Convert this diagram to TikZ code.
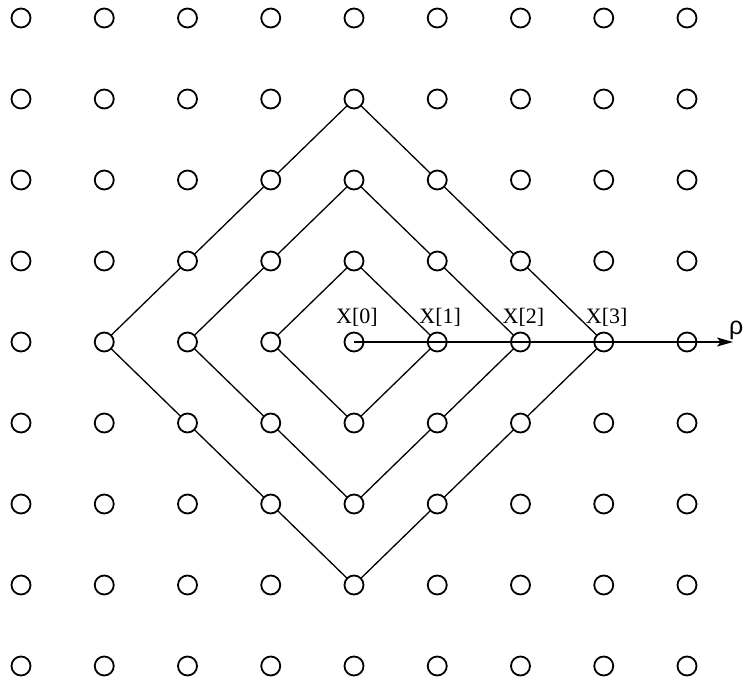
\documentclass[tikz,border=0pt]{standalone}
\usepackage{fontspec}
\setmainfont{Liberation Serif}
\newfontfamily\greeksans{Liberation Sans}
\usetikzlibrary{arrows.meta}
\begin{document}
\begin{tikzpicture}[x=1pt,y=-1pt,
  site/.style={circle,draw,line width=1.8pt,minimum size=19pt,inner sep=0pt},
  ring/.style={line width=1.3pt,shorten <=-0.5pt,shorten >=-0.5pt},
  axis/.style={line width=1.3pt,-{Stealth[length=16pt,width=9pt,inset=3.5pt]}},
  lbl/.style={font=\fontsize{22}{22}\selectfont,inner sep=0pt}]
  \useasboundingbox (0,0) rectangle (744,679);
  % lattice of sites
  \foreach \i in {0,...,8}
    \foreach \j in {0,...,8}
      \node[site] (c-\i-\j) at ({21+83.25*\i},{18+81*\j}) {};
  % diamond shells of radius 1, 2, 3 around c-4-4
  \foreach \r in {1,2,3}{
    \foreach \k in {1,...,\r}{
      \pgfmathtruncatemacro{\ka}{\k-1}
      % right -> top
      \pgfmathtruncatemacro{\ax}{4+\r-\ka}\pgfmathtruncatemacro{\ay}{4-\ka}
      \pgfmathtruncatemacro{\bx}{4+\r-\k}\pgfmathtruncatemacro{\by}{4-\k}
      \draw[ring] (c-\ax-\ay) -- (c-\bx-\by);
      % top -> left
      \pgfmathtruncatemacro{\ax}{4-\ka}\pgfmathtruncatemacro{\ay}{4-\r+\ka}
      \pgfmathtruncatemacro{\bx}{4-\k}\pgfmathtruncatemacro{\by}{4-\r+\k}
      \draw[ring] (c-\ax-\ay) -- (c-\bx-\by);
      % left -> bottom
      \pgfmathtruncatemacro{\ax}{4-\r+\ka}\pgfmathtruncatemacro{\ay}{4+\ka}
      \pgfmathtruncatemacro{\bx}{4-\r+\k}\pgfmathtruncatemacro{\by}{4+\k}
      \draw[ring] (c-\ax-\ay) -- (c-\bx-\by);
      % bottom -> right
      \pgfmathtruncatemacro{\ax}{4+\ka}\pgfmathtruncatemacro{\ay}{4+\r-\ka}
      \pgfmathtruncatemacro{\bx}{4+\k}\pgfmathtruncatemacro{\by}{4+\r-\k}
      \draw[ring] (c-\ax-\ay) -- (c-\bx-\by);
    }
  }
  % radial axis
  \coordinate (tip) at (733,342);
  \draw[axis] (c-4-4.center) -- (tip);
  \node[lbl,font=\greeksans\fontsize{25}{25}\selectfont,anchor=base west] (rho) at (729,334) {ρ};
  % shell labels
  \foreach \n in {0,1,2,3}{
    \pgfmathtruncatemacro{\cx}{4+\n}
    \node[lbl,anchor=base] (x\n) at ([xshift=3pt]c-\cx-4.center |- 0,323) {X[\n]};
  }
\end{tikzpicture}
\end{document}
